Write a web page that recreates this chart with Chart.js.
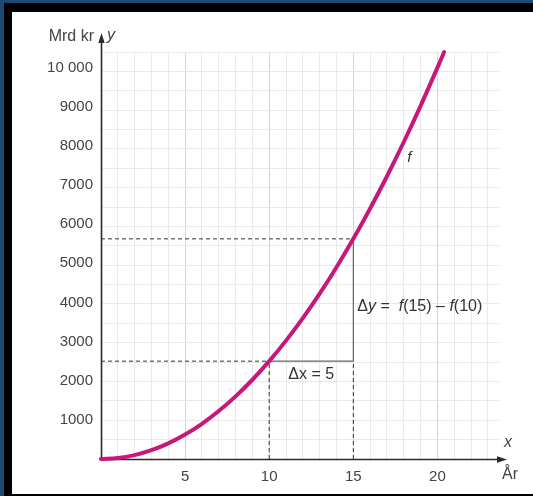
<!DOCTYPE html>
<html><head><meta charset="utf-8">
<script src="https://cdn.jsdelivr.net/npm/chart.js@4/dist/chart.umd.min.js"></script>
<style>html,body{margin:0;padding:0;background:#1d4a73;}canvas{display:block}</style>
</head><body>
<canvas id="c" width="533" height="496"></canvas>
<script>
// Data
const years  = [0, 1, 2, 3, 4, 5, 6, 7, 8, 9, 10, 11, 12, 13, 14, 15, 16, 17, 18, 19, 20, 20.4];
const values = [0, 25, 100, 225, 400, 625, 900, 1225, 1600, 2025, 2500, 3025, 3600, 4225, 4900, 5625, 6400, 7225, 8100, 9025, 10000, 10400];
const xTickValues = [5, 10, 15, 20];
const yTickValues = [1000, 2000, 3000, 4000, 5000, 6000, 7000, 8000, 9000, 10000];
const yTickLabels = ['1000', '2000', '3000', '4000', '5000', '6000', '7000', '8000', '9000', '10 000'];
const deltaXs = [10, 15];
const deltaYs = [2500, 5625];

const FONT = "'Liberation Sans', Arial, sans-serif";

const curve = years.map((x, i) => ({x: x, y: values[i]}));

const dashStyle = {borderColor: '#333', borderWidth: 1, borderDash: [4, 3], pointRadius: 0, fill: false, order: 2};
const datasets = [
  {data: curve, borderColor: '#c8177b', borderWidth: 4, pointRadius: 0, fill: false,
   cubicInterpolationMode: 'monotone', clip: false, order: 0, borderCapStyle: 'round'},
  Object.assign({data: [{x: 0, y: deltaYs[0]}, {x: deltaXs[0], y: deltaYs[0]}]}, dashStyle),
  Object.assign({data: [{x: 0, y: deltaYs[1]}, {x: deltaXs[1], y: deltaYs[1]}]}, dashStyle),
  Object.assign({data: [{x: deltaXs[0], y: 0}, {x: deltaXs[0], y: deltaYs[0]}]}, dashStyle),
  Object.assign({data: [{x: deltaXs[1], y: 0}, {x: deltaXs[1], y: deltaYs[0]}]}, dashStyle),
  {data: [{x: deltaXs[0], y: deltaYs[0]}, {x: deltaXs[1], y: deltaYs[0]}, {x: deltaXs[1], y: deltaYs[1]}],
   borderColor: '#666', borderWidth: 1.2, pointRadius: 0, fill: false, order: 1}
];

const frame = {
  id: 'frame',
  beforeDraw(chart) {
    const ctx = chart.ctx;
    ctx.save();
    ctx.fillStyle = '#1d4a73'; ctx.fillRect(0, 0, 533, 496);
    ctx.fillStyle = '#000'; ctx.fillRect(4, 3, 529, 493);
    ctx.fillStyle = '#fff'; ctx.fillRect(12, 12, 521, 482);
    ctx.restore();
  }
};

const axes = {
  id: 'axes',
  beforeDatasetsDraw(chart) {
    const ctx = chart.ctx, xs = chart.scales.x, ys = chart.scales.y;
    const x0 = Math.round(xs.getPixelForValue(0)) + 0.5, y0 = Math.round(ys.getPixelForValue(0)) + 0.5;
    ctx.save();
    ctx.strokeStyle = '#2a2a2a'; ctx.fillStyle = '#2a2a2a'; ctx.lineWidth = 1.6;
    ctx.beginPath(); ctx.moveTo(x0, y0); ctx.lineTo(x0, 40); ctx.stroke();
    ctx.beginPath(); ctx.moveTo(x0, 33); ctx.lineTo(x0 - 3.2, 43); ctx.lineTo(x0 + 3.2, 43); ctx.closePath(); ctx.fill();
    ctx.beginPath(); ctx.moveTo(x0, y0); ctx.lineTo(498, y0); ctx.stroke();
    ctx.beginPath(); ctx.moveTo(507, y0); ctx.lineTo(497, y0 - 3.2); ctx.lineTo(497, y0 + 3.2); ctx.closePath(); ctx.fill();
    ctx.restore();
  },
  afterDraw(chart) {
    const ctx = chart.ctx, xs = chart.scales.x, ys = chart.scales.y;
    ctx.save();
    ctx.textBaseline = 'middle';
    ctx.fillStyle = '#444';
    // y tick labels
    ctx.font = '15px ' + FONT;
    ctx.textAlign = 'right';
    yTickValues.forEach((v, i) => ctx.fillText(yTickLabels[i], 93, ys.getPixelForValue(v)));
    ctx.font = '16px ' + FONT;
    ctx.fillText('Mrd kr', 94, 37);
    ctx.textAlign = 'left';
    ctx.font = 'italic 16px ' + FONT;
    ctx.fillText('y', 107, 36);
    ctx.fillText('x', 504, 443);
    ctx.font = '16px ' + FONT;
    ctx.fillText('År', 502, 475);
    ctx.fillStyle = '#333';
    ctx.font = 'italic 15px ' + FONT;
    ctx.fillText('f', xs.getPixelForValue(18.2), ys.getPixelForValue(7700));
    // Δx label
    ctx.font = '16px ' + FONT;
    ctx.textAlign = 'center';
    ctx.fillText('\u0394x = 5', xs.getPixelForValue((deltaXs[0] + deltaXs[1]) / 2), ys.getPixelForValue(deltaYs[0]) + 13);
    // Δy label
    ctx.textAlign = 'left';
    const parts = [['\u0394', false], ['y', true], [' =  ', false], ['f', true], ['(15) \u2013 ', false], ['f', true], ['(10)', false]];
    let px = xs.getPixelForValue(deltaXs[1]) + 4;
    const py = ys.getPixelForValue((deltaYs[0] + deltaYs[1]) / 2) + 7;
    for (const [t, it] of parts) {
      ctx.font = (it ? 'italic ' : '') + '16px ' + FONT;
      ctx.fillText(t, px, py);
      px += ctx.measureText(t).width;
    }
    ctx.restore();
  }
};

new Chart(document.getElementById('c'), {
  type: 'line',
  data: {datasets: datasets},
  plugins: [frame, axes],
  options: {
    responsive: false, animation: false, devicePixelRatio: 1,
    layout: {padding: {top: 52, right: 34, left: 0, bottom: 0}},
    plugins: {legend: {display: false}, tooltip: {enabled: false}},
    scales: {
      x: {
        type: 'linear', min: 0, max: 23.66,
        afterFit(s) { s.height = 37; },
        border: {display: false},
        grid: {drawTicks: false, lineWidth: 1,
          color: c => (c.tick && c.tick.value % 5 === 0) ? '#d4d4d4' : '#e9e9e9'},
        ticks: {stepSize: 1, autoSkip: false, maxRotation: 0, includeBounds: false, padding: 9,
          color: '#444', font: {family: FONT, size: 15},
          callback: v => xTickValues.includes(v) ? String(v) : ''}
      },
      y: {
        type: 'linear', min: 0, max: 10400,
        afterFit(s) { s.width = 101; },
        border: {display: false},
        grid: {drawTicks: false, lineWidth: 1,
          color: c => (c.tick && c.tick.value % 1000 === 0) ? '#d4d4d4' : '#e9e9e9'},
        ticks: {stepSize: 500, autoSkip: false, includeBounds: false, display: false}
      }
    }
  }
});
</script>
</body></html>
